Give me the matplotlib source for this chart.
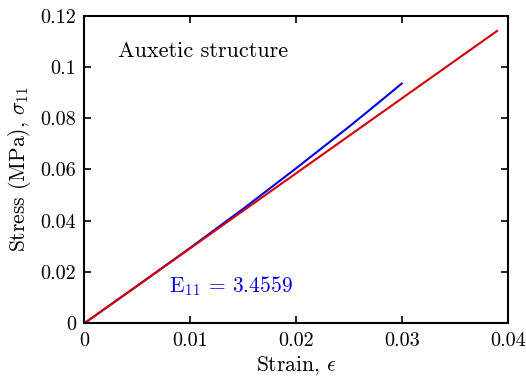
import matplotlib
matplotlib.use("Agg")
import matplotlib.pyplot as plt

plt.rcParams['font.family'] = 'serif'
plt.rcParams['font.serif'] = ['cmr10']
plt.rcParams['mathtext.fontset'] = 'cm'
plt.rcParams['axes.formatter.use_mathtext'] = True

# Simulated stress-strain response
strain_sim = [0.0, 0.005, 0.010, 0.015, 0.020, 0.025, 0.0275, 0.030]
stress_sim = [0.0, 0.0146, 0.0294, 0.0446, 0.0604, 0.0766, 0.0850, 0.0935]

# Linear fit
strain_fit = [0.0, 0.039]
stress_fit = [0.0, 0.114]

xticks = [0, 0.01, 0.02, 0.03, 0.04]
xtick_labels = ['0', '0.01', '0.02', '0.03', '0.04']
yticks = [0, 0.02, 0.04, 0.06, 0.08, 0.1, 0.12]
ytick_labels = ['0', '0.02', '0.04', '0.06', '0.08', '0.1', '0.12']

fig = plt.figure(figsize=(5.26, 3.85), dpi=100)
ax = fig.add_axes([0.16, 0.160, 0.805, 0.7995])

ax.plot(strain_sim, stress_sim, color='#0000e0', lw=1.5)
ax.plot(strain_fit, stress_fit, color='#d40000', lw=1.5)

ax.set_xlim(0, 0.04)
ax.set_ylim(0, 0.12)
ax.set_xticks(xticks)
ax.set_xticklabels(xtick_labels)
ax.set_yticks(yticks)
ax.set_yticklabels(ytick_labels)
ax.tick_params(direction='in', top=True, right=True, labelsize=14.5, length=5, width=1.2, pad=6)
for s in ax.spines.values():
    s.set_linewidth(1.5)

ax.set_xlabel(r'Strain, $\epsilon$', fontsize=15.5, labelpad=3)
ax.set_ylabel(r'Stress (MPa), $\sigma_{11}$', fontsize=15.5, labelpad=5)

ax.text(0.00315, 0.106, 'Auxetic structure', fontsize=16, va='center', ha='left')
ax.text(0.0080, 0.0145, r'E$_{11}$ = 3.4559', fontsize=15.5, va='center', ha='left', color='#0000e0')

fig.savefig('out.png', dpi=100)
